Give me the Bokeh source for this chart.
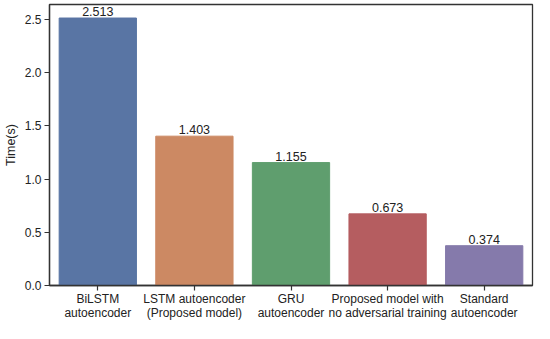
from bokeh.plotting import figure
from bokeh.models import ColumnDataSource, Range1d, FixedTicker, NumeralTickFormatter
from bokeh.core.properties import value
from bokeh.embed import file_html
from bokeh.resources import INLINE

categories = ["BiLSTM\nautoencoder", "LSTM autoencoder\n(Proposed model)", "GRU\nautoencoder",
              "Proposed model with\nno adversarial training", "Standard\nautoencoder"]
times = [2.513, 1.403, 1.155, 0.673, 0.374]
labels = ["2.513", "1.403", "1.155", "0.673", "0.374"]
colors = ["#5975A4", "#CC8963", "#5F9E6E", "#B55D60", "#857AAB"]
positions = list(range(len(categories)))

src = ColumnDataSource(dict(x=positions, top=times, label=labels, color=colors))

p = figure(width=534, height=323, output_backend="svg", toolbar_location=None,
           x_range=Range1d(-0.5, 4.5), y_range=Range1d(0, 2.64),
           min_border_left=0, min_border_right=2, min_border_top=4, min_border_bottom=10)

p.vbar(x="x", top="top", width=0.8, color="color", source=src)
p.text(x="x", y="top", text="label", source=src, text_align="center", text_baseline="bottom",
       y_offset=-2, text_font=value("Liberation Sans"), text_font_size="12.5px", text_color="#222222")

p.xgrid.visible = False
p.ygrid.visible = False
p.outline_line_color = "#333333"
p.outline_line_width = 1.3

p.xaxis.ticker = FixedTicker(ticks=positions)
p.xaxis.major_label_overrides = {i: c for i, c in enumerate(categories)}
p.yaxis.ticker = FixedTicker(ticks=[0, 0.5, 1.0, 1.5, 2.0, 2.5])
p.yaxis.formatter = NumeralTickFormatter(format="0.0")
p.yaxis.axis_label = "Time(s)"

for ax in (p.xaxis[0], p.yaxis[0]):
    ax.axis_line_color = "#333333"
    ax.axis_line_width = 1.3
    ax.major_tick_line_color = "#333333"
    ax.major_tick_line_width = 1.2
    ax.major_tick_out = 5
    ax.major_tick_in = 0
    ax.minor_tick_line_color = None
    ax.major_label_text_font = "Liberation Sans"
    ax.major_label_text_font_size = "12px"
    ax.major_label_text_color = "#222222"
    ax.axis_label_text_font = "Liberation Sans"
    ax.axis_label_text_font_size = "12.5px"
    ax.axis_label_text_font_style = "normal"
    ax.axis_label_text_color = "#222222"
p.yaxis.axis_label_standoff = 4
p.yaxis.major_label_standoff = 3
p.xaxis.major_label_standoff = 1
p.xaxis.major_label_text_line_height = 1.05

open("out.html", "w").write(file_html(p, INLINE))
